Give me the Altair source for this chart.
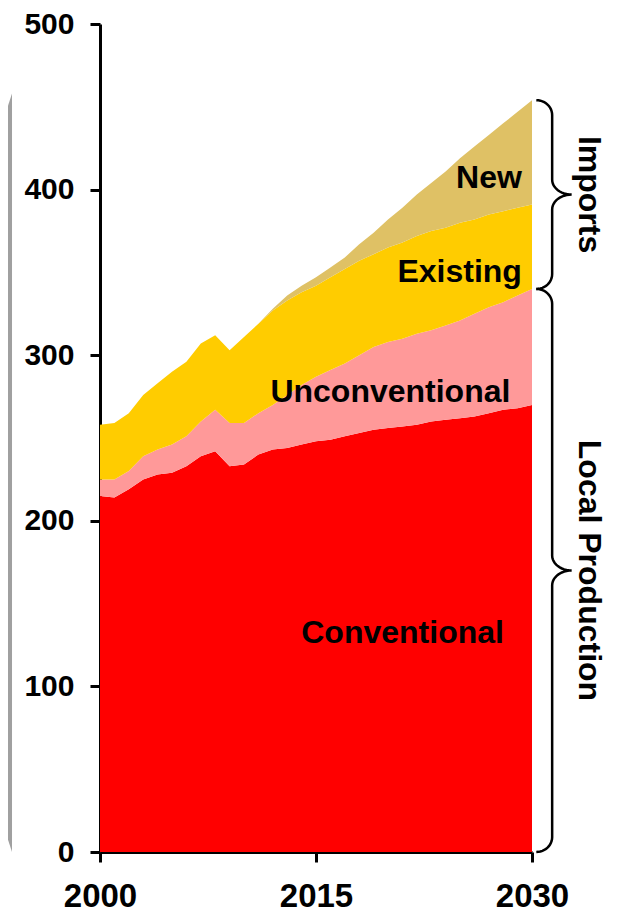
import math
import pandas as pd
import altair as alt

years = list(range(2000, 2031))
conventional = [215, 214, 219, 225, 228, 229, 233, 239, 242, 233, 234, 240, 243, 244, 246, 248,
                249, 251, 253, 255, 256, 257, 258, 260, 261, 262, 263, 265, 267, 268, 270]
unconventional = [10, 11, 11, 14, 15, 17, 18, 21, 25, 26, 25, 25, 27, 32, 36, 39,
                  42, 44, 47, 50, 52, 53, 55, 55, 57, 59, 62, 64, 65, 68, 70]
existing = [33, 34, 35, 37, 40, 44, 45, 47, 45, 44, 52, 54, 57, 57, 56, 55,
            56, 57, 57, 56, 57, 58, 59, 60, 59, 59, 57, 56, 55, 53, 51]
new = [0, 0, 0, 0, 0, 0, 0, 0, 0, 0, 0, 0, 1, 3, 4, 5,
       6, 7, 10, 13, 17, 21, 25, 29, 34, 39, 44, 48, 53, 58, 63]

series_names = ["Conventional", "Unconventional", "Existing", "New"]
series_colors = ["#FF0000", "#FF9999", "#FFCC00", "#DFC165"]
series_values = [conventional, unconventional, existing, new]

y_ticks = [0, 100, 200, 300, 400, 500]
x_ticks = [2000, 2015, 2030]

FONT = "Liberation Sans"

rows = []
for k, (name, vals) in enumerate(zip(series_names, series_values)):
    for yr, v in zip(years, vals):
        rows.append({"year": yr, "value": v, "series": name, "ord": k})
df = pd.DataFrame(rows)

x_scale = alt.Scale(domain=[2000, 2030], nice=False, zero=False)
y_scale = alt.Scale(domain=[0, 500], nice=False)

x_axis = alt.Axis(values=x_ticks, format="d", title=None, grid=False,
                  labelFont=FONT, labelFontSize=33, labelFontWeight="bold", labelColor="black",
                  labelPadding=18, tickColor="black", tickWidth=3, tickSize=10,
                  domainColor="black", domainWidth=3, labelFlush=False)
y_axis = alt.Axis(values=y_ticks, title=None, grid=False,
                  labelFont=FONT, labelFontSize=30, labelFontWeight="bold", labelColor="black",
                  labelPadding=16, tickColor="black", tickWidth=3, tickSize=10,
                  domainColor="black", domainWidth=3, labelFlush=False)

area = alt.Chart(df).mark_area(opacity=1, interpolate="linear").encode(
    x=alt.X("year:Q", scale=x_scale, axis=x_axis),
    y=alt.Y("value:Q", stack="zero", scale=y_scale, axis=y_axis),
    color=alt.Color("series:N", scale=alt.Scale(domain=series_names, range=series_colors), legend=None),
    order=alt.Order("ord:Q"),
)

# in-chart labels
lab_df = pd.DataFrame({
    "year": [2029.3, 2029.3, 2028.5, 2028.05],
    "value": [407, 350, 278, 132],
    "text": ["New", "Existing", "Unconventional", "Conventional"],
})
labels = alt.Chart(lab_df).mark_text(
    align="right", baseline="middle", font=FONT, fontSize=32, fontWeight="bold", color="black"
).encode(
    x=alt.X("year:Q", scale=x_scale, axis=x_axis),
    y=alt.Y("value:Q", scale=y_scale, axis=y_axis),
    text="text:N",
)

# braces
local_total = conventional[-1] + unconventional[-1]
grand_total = local_total + existing[-1] + new[-1]


def brace(v0, v1, name):
    hook, spine, tip = 2030.3, 2031.4, 2032.75
    ry = 9.0
    mid = (v0 + v1) / 2
    pts = []
    n = 12
    for i in range(n + 1):
        t = math.pi / 2 * i / n
        pts.append((hook + (spine - hook) * math.sin(t), v1 - ry * (1 - math.cos(t))))
    for i in range(n + 1):
        t = math.pi / 2 * i / n
        pts.append((spine + (tip - spine) * (1 - math.cos(t)), mid + ry * (1 - math.sin(t))))
    for i in range(n, -1, -1):
        t = math.pi / 2 * i / n
        pts.append((spine + (tip - spine) * (1 - math.cos(t)), mid - ry * (1 - math.sin(t))))
    for i in range(n, -1, -1):
        t = math.pi / 2 * i / n
        pts.append((hook + (spine - hook) * math.sin(t), v0 + ry * (1 - math.cos(t))))
    return [{"year": x, "value": y, "i": j, "b": name} for j, (x, y) in enumerate(pts)]


brace_df = pd.DataFrame(brace(local_total, grand_total, "imports") + brace(0, local_total, "local"))
braces = alt.Chart(brace_df).mark_line(color="black", strokeWidth=2.5, clip=False).encode(
    x=alt.X("year:Q", scale=x_scale, axis=x_axis),
    y=alt.Y("value:Q", scale=y_scale, axis=y_axis),
    detail="b:N",
    order="i:Q",
)

side_df = pd.DataFrame({
    "year": [2033.95, 2033.95],
    "value": [(local_total + grand_total) / 2, local_total / 2],
    "text": ["Imports", "Local Production"],
})
side = alt.Chart(side_df).mark_text(
    align="center", baseline="middle", angle=90, font=FONT, fontSize=32, fontWeight="bold", color="black"
).encode(
    x=alt.X("year:Q", scale=x_scale, axis=x_axis),
    y=alt.Y("value:Q", scale=y_scale, axis=y_axis),
    text="text:N",
)

# decorative grey wedge at left edge
wedge_df = pd.DataFrame({"year": [1993.06, 1993.89], "value": [436, 458], "value2": [22, 0]})
wedge = alt.Chart(wedge_df).mark_area(color="#A0A0A0", clip=False).encode(
    x=alt.X("year:Q", scale=x_scale, axis=x_axis),
    y=alt.Y("value:Q", scale=y_scale, axis=y_axis),
    y2="value2:Q",
)

chart = alt.layer(wedge, area, labels, braces, side).properties(
    width=432, height=828,
    autosize=alt.AutoSizeParams(type="none"),
    padding={"left": 92, "top": 16, "right": 84, "bottom": 62},
    background="white",
).configure_view(stroke=None)

chart.save("out.html", embed_options={"renderer": "svg", "actions": False})
